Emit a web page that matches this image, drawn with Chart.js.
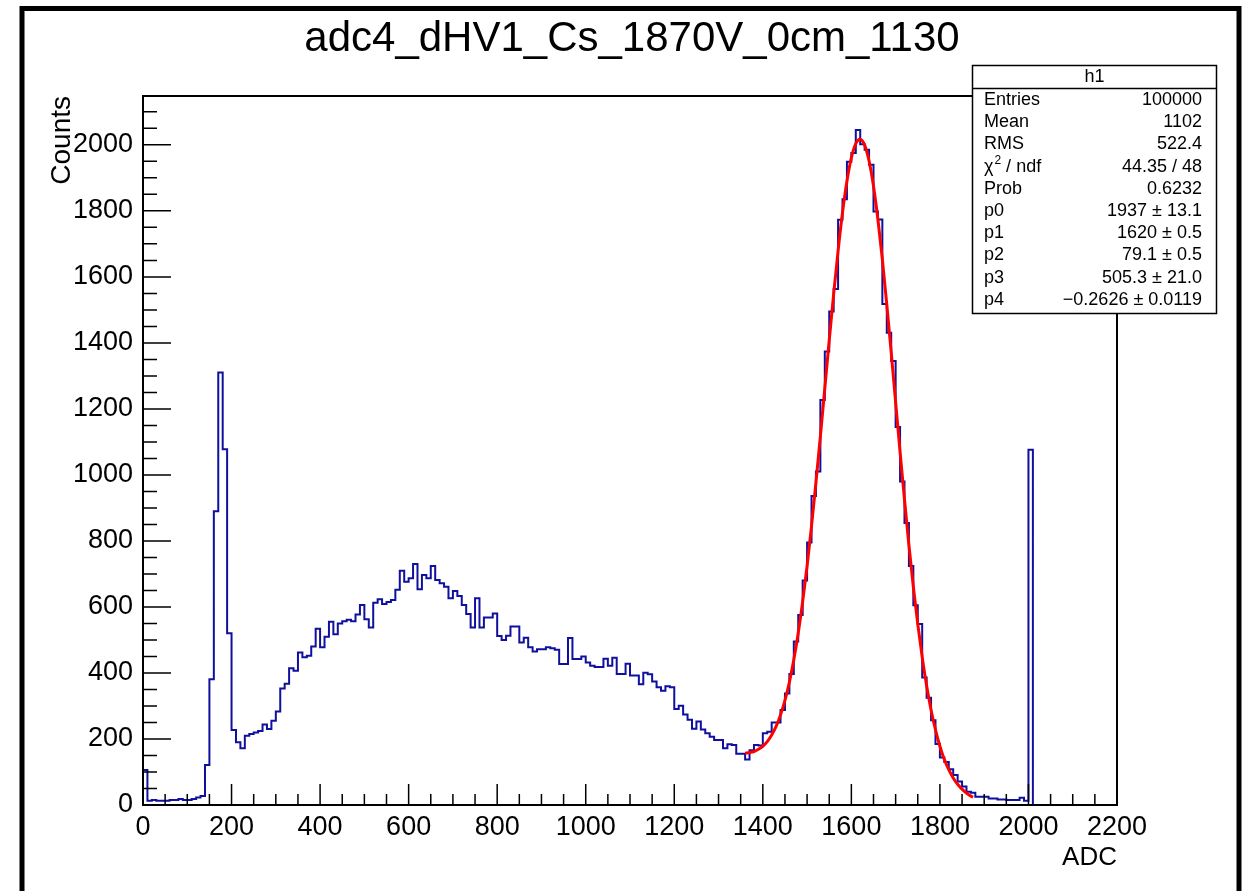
<!DOCTYPE html>
<html>
<head>
<meta charset="utf-8">
<script src="https://cdn.jsdelivr.net/npm/chart.js@4/dist/chart.umd.min.js"></script>
<style>
  html, body { margin: 0; padding: 0; background: #fff; }
  #c { display: block; }
</style>
</head>
<body>
<canvas id="c" width="1253" height="891"></canvas>
<script>
const title = "adc4_dHV1_Cs_1870V_0cm_1130";
const xTitle = "ADC";
const yTitle = "Counts";
const xMin = 0, xMax = 2200;
const yMin = 0, yMax = 2148;

// histogram: 10 ADC wide bins starting at 0
const binStart = 0;
const binWidth = 10;
const counts = [
  106, 13, 15, 13, 13, 13, 15, 15, 18, 15,
  15, 18, 23, 27, 121, 381, 890, 1310, 1078, 520,
  227, 190, 172, 210, 215, 220, 224, 244, 230, 255,
  283, 353, 367, 414, 407, 462, 448, 452, 480, 534,
  478, 510, 555, 517, 550, 557, 561, 557, 577, 606,
  563, 538, 613, 623, 609, 615, 621, 652, 710, 676,
  687, 730, 654, 697, 687, 724, 682, 672, 661, 626,
  648, 633, 606, 579, 538, 626, 538, 568, 568, 580,
  512, 500, 513, 541, 541, 492, 507, 478, 465, 472,
  472, 478, 475, 470, 427, 427, 506, 442, 442, 450,
  432, 422, 418, 418, 443, 422, 446, 397, 397, 428,
  392, 392, 366, 401, 396, 374, 357, 346, 360, 357,
  291, 301, 274, 258, 231, 253, 229, 217, 207, 197,
  197, 172, 184, 182, 155, 155, 138, 166, 182, 180,
  217, 222, 250, 250, 288, 338, 397, 495, 576, 680,
  795, 936, 1010, 1227, 1374, 1495, 1563, 1773, 1835, 1949,
  1975, 2045, 2002, 1985, 1940, 1798, 1774, 1518, 1431, 1345,
  1145, 980, 854, 724, 605, 548, 386, 325, 257, 185,
  144, 130, 108, 91, 71, 56, 40, 37, 25, 25,
  25, 20, 20, 17, 17, 15, 15, 15, 22, 13,
  1076
];

// red fit curve
const fitX = [
  1360, 1370, 1380, 1390, 1400, 1410, 1420, 1430, 1440, 1450,
  1460, 1470, 1480, 1490, 1500, 1510, 1520, 1530, 1540, 1550,
  1560, 1570, 1580, 1590, 1600, 1610, 1620, 1630, 1640, 1650,
  1660, 1670, 1680, 1690, 1700, 1710, 1720, 1730, 1740, 1750,
  1760, 1770, 1780, 1790, 1800, 1810, 1820, 1830, 1840, 1850,
  1860, 1870, 1875
];
const fitY = [
  157, 159, 162, 169, 178, 192, 212, 238, 273, 317,
  372, 440, 521, 616, 724, 845, 977, 1117, 1262, 1408,
  1548, 1679, 1795, 1890, 1961, 2004, 2017, 1999, 1951, 1875,
  1774, 1653, 1517, 1371, 1220, 1070, 925, 787, 661, 548,
  448, 361, 288, 228, 178, 138, 107, 82, 63, 48,
  36, 27, 24
];

const xTicks = [0, 200, 400, 600, 800, 1000, 1200, 1400, 1600, 1800, 2000, 2200];
const yTicks = [0, 200, 400, 600, 800, 1000, 1200, 1400, 1600, 1800, 2000];

const statTitle = "h1";
const statLabels = ["Entries", "Mean", "RMS", "χ² / ndf", "Prob", "p0", "p1", "p2", "p3", "p4"];
const statValues = ["100000", "1102", "522.4", "44.35 / 48", "0.6232",
  "1937 ± 13.1", "1620 ± 0.5", "79.1 ± 0.5", "505.3 ± 21.0", "−0.2626 ± 0.0119"];

const FONT = '"Liberation Sans", Arial, Helvetica, sans-serif';

const histPoints = [{ x: binStart, y: 0 }];
counts.forEach((c, i) => histPoints.push({ x: binStart + i * binWidth, y: c }));
histPoints.push({ x: binStart + counts.length * binWidth, y: 0 });

const fitPoints = fitX.map((x, i) => ({ x: x, y: fitY[i] }));

const rootLook = {
  id: 'rootLook',
  beforeDraw(chart) {
    const ctx = chart.ctx;
    ctx.save();
    ctx.fillStyle = '#fff';
    ctx.fillRect(0, 0, chart.width, chart.height);
    ctx.restore();
  },
  afterDraw(chart) {
    const { ctx, chartArea: a, scales: { x, y } } = chart;
    ctx.save();
    ctx.strokeStyle = '#000';

    // ticks inside the frame, ROOT style
    ctx.lineWidth = 1.5;
    ctx.beginPath();
    for (let v = xMin; v <= xMax; v += 50) {
      const px = x.getPixelForValue(v);
      const len = xTicks.includes(v) ? 21 : 11;
      ctx.moveTo(px, a.bottom);
      ctx.lineTo(px, a.bottom - len);
    }
    for (let v = yMin; v <= yMax; v += 50) {
      const py = y.getPixelForValue(v);
      const len = yTicks.includes(v) ? 28 : 14;
      ctx.moveTo(a.left, py);
      ctx.lineTo(a.left + len, py);
    }
    ctx.stroke();

    // frame
    ctx.lineWidth = 2;
    ctx.strokeRect(a.left, a.top, a.right - a.left, a.bottom - a.top);

    // canvas border
    ctx.lineWidth = 5;
    ctx.strokeRect(22, 8.5, 1217, 900);

    // stats box
    const bx = 972.5, by = 65.5, bw = 244, bh = 248;
    ctx.fillStyle = '#fff';
    ctx.fillRect(bx, by, bw, bh);
    ctx.lineWidth = 1.5;
    ctx.strokeRect(bx, by, bw, bh);
    ctx.beginPath();
    ctx.moveTo(bx, 88.5);
    ctx.lineTo(bx + bw, 88.5);
    ctx.stroke();

    ctx.fillStyle = '#000';
    ctx.textBaseline = 'middle';
    ctx.font = '18px ' + FONT;
    ctx.textAlign = 'center';
    ctx.fillText(statTitle, bx + bw / 2, 77.5);

    statLabels.forEach((lab, i) => {
      const ty = 100 + i * 22.2;
      ctx.textAlign = 'left';
      if (lab.includes('²')) {
        const [pre, post] = lab.split('²');
        let tx = 984;
        ctx.font = '18px ' + FONT;
        ctx.fillText(pre, tx, ty);
        tx += ctx.measureText(pre).width + 1;
        ctx.font = '12px ' + FONT;
        ctx.fillText('2', tx, ty - 6);
        tx += ctx.measureText('2').width;
        ctx.font = '18px ' + FONT;
        ctx.fillText(post, tx, ty);
      } else {
        ctx.font = '18px ' + FONT;
        ctx.fillText(lab, 984, ty);
      }
      ctx.textAlign = 'right';
      ctx.font = '18px ' + FONT;
      ctx.fillText(statValues[i], 1202, ty);
    });
    ctx.restore();
  }
};

new Chart(document.getElementById('c'), {
  type: 'line',
  data: {
    datasets: [
      {
        label: 'fit',
        data: fitPoints,
        borderColor: '#ff0000',
        borderWidth: 3,
        pointRadius: 0,
        fill: false,
        cubicInterpolationMode: 'monotone',
        order: 0
      },
      {
        label: 'h1',
        data: histPoints,
        stepped: true,
        borderColor: '#10109e',
        borderWidth: 2,
        pointRadius: 0,
        fill: false,
        order: 1
      }
    ]
  },
  options: {
    responsive: false,
    animation: false,
    devicePixelRatio: 1,
    layout: { padding: { left: 11, right: 0, top: 0, bottom: 0 } },
    plugins: {
      legend: { display: false },
      tooltip: { enabled: false },
      title: {
        display: true,
        text: title,
        color: '#000',
        font: { family: FONT, size: 42, weight: 'normal' },
        padding: { top: 14, bottom: 31.6 }
      }
    },
    scales: {
      x: {
        type: 'linear',
        min: xMin,
        max: xMax,
        grid: { display: false, drawTicks: false },
        border: { display: false },
        afterBuildTicks: s => { s.ticks = xTicks.map(v => ({ value: v })); },
        ticks: {
          autoSkip: false,
          maxRotation: 0,
          padding: 6,
          color: '#000',
          font: { family: FONT, size: 27 },
          callback: v => String(v)
        },
        title: {
          display: true,
          text: xTitle,
          align: 'end',
          color: '#000',
          font: { family: FONT, size: 26 },
          padding: { top: 0, bottom: 18 }
        },
        afterFit: s => { s.height = 86; }
      },
      y: {
        type: 'linear',
        position: 'left',
        min: yMin,
        max: yMax,
        grid: { display: false, drawTicks: false },
        border: { display: false },
        afterBuildTicks: s => { s.ticks = yTicks.map(v => ({ value: v })); },
        ticks: {
          autoSkip: false,
          padding: 10,
          color: '#000',
          font: { family: FONT, size: 27 },
          callback: v => String(v)
        },
        title: {
          display: true,
          text: yTitle,
          align: 'end',
          color: '#000',
          font: { family: FONT, size: 28 },
          padding: { top: 34, bottom: 0 }
        },
        afterFit: s => { s.width = 132; }
      },
      // empty right-hand box so the plot ends at the same place as in ROOT
      yRight: {
        type: 'linear',
        position: 'right',
        min: yMin,
        max: yMax,
        grid: { display: false, drawTicks: false },
        border: { display: false },
        ticks: { display: false },
        afterFit: s => { s.width = 136; }
      }
    }
  },
  plugins: [rootLook]
});
</script>
</body>
</html>
